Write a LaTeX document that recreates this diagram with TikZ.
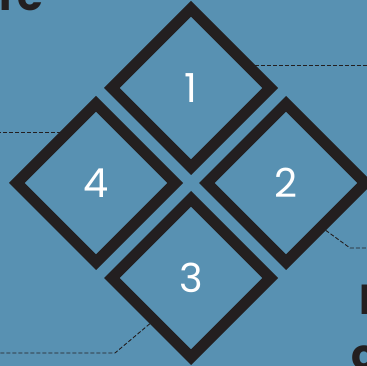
\documentclass[tikz,border=0pt]{standalone}
\usepackage{fontspec}
\setmainfont{Poppins}
\usetikzlibrary{shapes.geometric}
\definecolor{steel}{RGB}{88,145,178}
\definecolor{ink}{RGB}{35,31,32}

\begin{document}
\begin{tikzpicture}[x=1pt, y=-1pt,
  tile/.style={shape=diamond, draw=ink, line width=11pt, minimum width=163pt, minimum height=163pt, inner sep=0pt, text=white, font=\fontsize{40}{40}\selectfont},
  leader/.style={draw=ink, line width=0.9pt, dash pattern=on 4pt off 2pt},
  heading/.style={inner sep=0pt, text=ink, font=\fontsize{42}{42}\selectfont\bfseries}]

\fill[steel] (0,0) rectangle (367,366);
\useasboundingbox (0,0) rectangle (367,366);
\clip (0,0) rectangle (367,366);

\node[heading, anchor=base east] (t1) at (44,11) {ere};
\node[heading, anchor=base west] (t2) at (359,315) {I};
\node[heading, anchor=base west] (t3) at (351,369) {c};

\node[tile] (d1) at (191,88) {1};
\node[tile] (d2) at (286,183) {2};
\node[tile] (d3) at (191,278) {3};
\node[tile] (d4) at (96,183) {4};

\coordinate (e1) at (370,65);
\coordinate (e4) at (-3,132);
\coordinate (b3) at (115,353);
\coordinate (e3) at (-3,353);
\coordinate (b2) at (350,248);
\coordinate (e2) at (370,248);

\draw[leader] (d1.20 |- e1) -- (e1);
\draw[leader] (d4.124 |- e4) -- (e4);
\draw[leader] (d3.228) -- (b3) -- (e3);
\draw[leader] (d2.310) -- (b2) -- (e2);

\end{tikzpicture}
\end{document}
